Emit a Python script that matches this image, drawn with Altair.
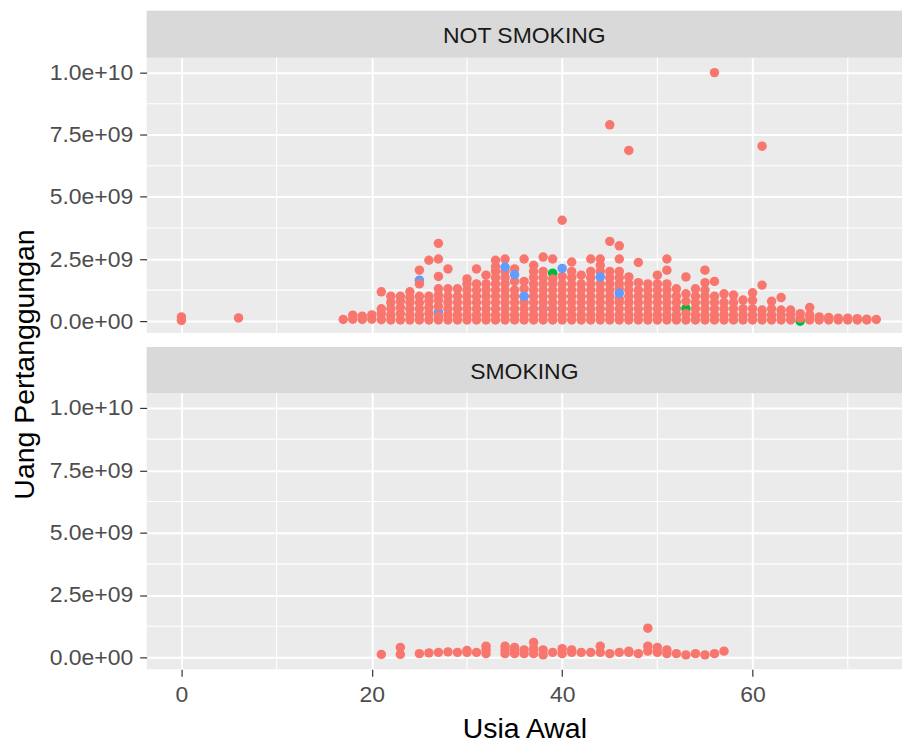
import altair as alt
import pandas as pd

# ---------------- data (Uang Pertanggungan in miliar / 1e9) ----------------
kategori = ["Kelas 1", "Kelas 2", "Kelas 3"]
warna = ["#F8766D", "#00BA38", "#619CFF"]

# NOT SMOKING, red points per age
usia_ns = [0, 6, 17, 18, 19, 20, 21, 22, 23, 24, 25, 26, 27, 28, 29, 30, 31, 32,
           33, 34, 35, 36, 37, 38, 39, 40, 41, 42, 43, 44, 45, 46, 47, 48, 49, 50,
           51, 52, 53, 54, 55, 56, 57, 58, 59, 60, 61, 62, 63, 64, 65, 66, 67, 68,
           69, 70, 71, 72, 73]
uang_ns = [
    [0.03, 0.17], [0.13], [0.07], [0.08, 0.24], [0.07, 0.2], [0.08, 0.25],
    [0.06, 0.3, 0.5, 1.18],
    [0.05, 0.25, 0.5, 0.75, 1.0],
    [0.05, 0.3, 0.55, 0.8, 1.0],
    [0.05, 0.25, 0.5, 0.75, 0.95, 1.18],
    [0.05, 0.25, 0.5, 0.75, 1.0, 1.5, 2.05],
    [0.05, 0.3, 0.55, 0.8, 1.0, 2.45],
    [0.05, 0.2, 0.6, 0.85, 1.05, 1.3, 1.8, 2.5, 3.13],
    [0.05, 0.25, 0.5, 0.75, 1.0, 1.3, 2.1],
    [0.05, 0.25, 0.5, 0.75, 1.0, 1.3],
    [0.05, 0.25, 0.5, 0.75, 1.0, 1.25, 1.5, 1.7],
    [0.05, 0.25, 0.5, 0.75, 1.0, 1.25, 1.5, 2.1],
    [0.05, 0.25, 0.5, 0.75, 1.0, 1.25, 1.5, 1.85],
    [0.05, 0.25, 0.5, 0.75, 1.0, 1.25, 1.5, 1.75, 2.0, 2.2, 2.45],
    [0.05, 0.25, 0.5, 0.75, 1.0, 1.25, 1.5, 1.75, 2.0, 2.5],
    [0.05, 0.25, 0.5, 0.75, 1.0, 1.25, 1.6, 2.1],
    [0.05, 0.25, 0.5, 0.75, 1.0, 1.3, 1.6, 2.5],
    [0.05, 0.25, 0.5, 0.75, 1.0, 1.25, 1.5, 1.75, 2.0, 2.25],
    [0.05, 0.25, 0.5, 0.75, 1.0, 1.25, 1.5, 1.75, 2.0, 2.58],
    [0.05, 0.25, 0.5, 0.75, 1.0, 1.25, 1.5, 1.7, 2.5],
    [0.05, 0.25, 0.5, 0.75, 1.0, 1.25, 1.5, 1.8, 4.06],
    [0.05, 0.25, 0.5, 0.75, 1.0, 1.25, 1.5, 1.75, 2.0, 2.38],
    [0.05, 0.25, 0.5, 0.75, 1.0, 1.25, 1.5, 1.85],
    [0.05, 0.25, 0.5, 0.75, 1.0, 1.25, 1.5, 1.75, 2.0, 2.5],
    [0.05, 0.25, 0.5, 0.75, 1.0, 1.25, 1.5, 2.0, 2.25, 2.5],
    [0.05, 0.25, 0.5, 0.75, 1.0, 1.25, 1.5, 1.75, 2.0, 3.21, 7.9],
    [0.05, 0.25, 0.5, 0.75, 0.9, 1.3, 1.5, 1.75, 2.0, 2.5, 3.03],
    [0.05, 0.25, 0.5, 0.75, 1.0, 1.25, 1.5, 1.78, 6.87],
    [0.05, 0.25, 0.5, 0.75, 1.0, 1.25, 1.55, 2.36],
    [0.05, 0.25, 0.5, 0.75, 1.0, 1.25, 1.5],
    [0.05, 0.25, 0.5, 0.75, 1.0, 1.25, 1.5, 1.85],
    [0.05, 0.25, 0.5, 0.75, 1.0, 1.25, 1.5, 2.05, 2.5],
    [0.05, 0.25, 0.5, 0.75, 1.0, 1.3],
    [0.05, 0.3, 0.8, 1.1, 1.78],
    [0.05, 0.25, 0.5, 0.75, 1.0, 1.3],
    [0.05, 0.25, 0.5, 0.75, 1.0, 1.25, 1.55, 2.05],
    [0.05, 0.25, 0.5, 0.75, 1.0, 1.6, 10.0],
    [0.05, 0.25, 0.5, 0.75, 1.1],
    [0.05, 0.25, 0.5, 0.75, 1.05],
    [0.05, 0.25, 0.5, 0.85],
    [0.05, 0.25, 0.5, 0.84, 1.14],
    [0.05, 0.25, 0.45, 1.45, 7.04],
    [0.05, 0.25, 0.5, 0.8],
    [0.05, 0.25, 0.45, 0.95],
    [0.05, 0.25, 0.45],
    [0.12, 0.3],
    [0.05, 0.25, 0.55],
    [0.05, 0.17], [0.05, 0.15], [0.05, 0.12], [0.05, 0.12], [0.05, 0.1],
    [0.05, 0.08], [0.07],
]

# NOT SMOKING, other categories (drawn under / over the red points)
usia_ns_bawah = [25, 27, 38, 39, 39, 53, 65]
uang_ns_bawah = [1.65, 0.37, 0.5, 0.5, 1.93, 0.51, 0.0]
kat_ns_bawah = ["Kelas 3", "Kelas 3", "Kelas 3", "Kelas 3", "Kelas 2", "Kelas 2", "Kelas 2"]
usia_ns_atas = [34, 35, 36, 40, 44, 46]
uang_ns_atas = [2.18, 1.87, 1.0, 2.12, 1.78, 1.12]
kat_ns_atas = ["Kelas 3"] * 6

# SMOKING, red points per age
usia_s = [21, 23, 25, 26, 27, 28, 29, 30, 31, 32, 34, 35, 36, 37, 38, 39, 40, 41,
          42, 43, 44, 45, 46, 47, 48, 49, 50, 51, 52, 53, 54, 55, 56, 57]
uang_s = [
    [0.12], [0.12, 0.4], [0.15], [0.18], [0.2], [0.22], [0.2], [0.2, 0.28],
    [0.2], [0.15, 0.3, 0.45], [0.15, 0.3, 0.45], [0.15, 0.3, 0.4], [0.15, 0.3],
    [0.15, 0.35, 0.6], [0.1, 0.3], [0.2], [0.15, 0.35], [0.2, 0.3], [0.2], [0.2],
    [0.2, 0.45], [0.15], [0.2], [0.2, 0.25], [0.15], [0.25, 0.45, 1.17],
    [0.2, 0.4], [0.15, 0.3], [0.15], [0.1], [0.15], [0.1], [0.15], [0.25],
]

x_ticks = [0, 20, 40, 60]
x_minor = [10, 30, 50, 70]
y_ticks = [0, 2.5e9, 5.0e9, 7.5e9, 1.0e10]
y_labels = ["0.0e+00", "2.5e+09", "5.0e+09", "7.5e+09", "1.0e+10"]
y_minor = [1.25e9, 3.75e9, 6.25e9, 8.75e9]

# ---------------- tables ----------------
def kolom_ke_baris(usia, uang, kat):
    rows = []
    for a, vals in zip(usia, uang):
        for v in vals:
            rows.append({"usia": a, "uang": v * 1e9, "kategori": kat})
    return rows

rows_ns = [{"usia": a, "uang": v * 1e9, "kategori": k}
           for a, v, k in zip(usia_ns_bawah, uang_ns_bawah, kat_ns_bawah)]
rows_ns += kolom_ke_baris(usia_ns, uang_ns, "Kelas 1")
rows_ns += [{"usia": a, "uang": v * 1e9, "kategori": k}
            for a, v, k in zip(usia_ns_atas, uang_ns_atas, kat_ns_atas)]
df_ns = pd.DataFrame(rows_ns)
df_s = pd.DataFrame(kolom_ke_baris(usia_s, uang_s, "Kelas 1"))

expr = "''"
for v, lab in reversed(list(zip(y_ticks, y_labels))):
    expr = f"datum.value == {int(v)} ? '{lab}' : ({expr})"

W = 757
FONT = "Liberation Sans"
TICK_FS = 23
TITLE_FS = 28.5
x_scale = alt.Scale(domain=[-3.65, 75.7], nice=False, zero=False)
y_scale = alt.Scale(domain=[-0.48e9, 10.6e9], nice=False, zero=False)


def strip(nama, tinggi):
    base = alt.Chart(pd.DataFrame({"label": [nama]}))
    rect = base.mark_rect(color="#D9D9D9").encode(
        x=alt.value(0), x2=alt.value(W), y=alt.value(0), y2=alt.value(tinggi))
    teks = base.mark_text(font=FONT, fontSize=23, color="#1A1A1A",
                          baseline="middle", align="center").encode(
        text="label:N", x=alt.value(W / 2), y=alt.value(tinggi / 2 + 2))
    return alt.layer(rect, teks).properties(width=W, height=tinggi)


def jarak(tinggi):
    return alt.Chart(pd.DataFrame({"k": [0]})).mark_rect(color="white").encode(
        x=alt.value(-2), x2=alt.value(W + 2), y=alt.value(0), y2=alt.value(tinggi)
    ).properties(width=W, height=tinggi)


def panel(df, tinggi, bawah):
    x_kw = dict(values=x_ticks, grid=True, gridColor="white", gridWidth=2,
                domain=False, labels=bawah, ticks=bawah, tickColor="#333333",
                tickSize=7, tickWidth=1.2, labelFontSize=TICK_FS,
                labelColor="#4D4D4D", labelFont=FONT, labelPadding=7)
    if bawah:
        x_kw.update(title="Usia Awal", titleFont=FONT, titleFontSize=TITLE_FS,
                    titleFontWeight="normal", titleColor="black",
                    titleY=59, titleBaseline="middle")
    else:
        x_kw.update(title="")
    y_kw = dict(values=y_ticks, labelExpr=expr, grid=True, gridColor="white",
                gridWidth=2, domain=False, tickColor="#333333", tickSize=7,
                tickWidth=1.2, labelFontSize=TICK_FS, labelColor="#4D4D4D",
                labelFont=FONT, labelPadding=7)
    if not bawah:
        y_kw.update(title="Uang Pertanggungan", titleFont=FONT,
                    titleFontSize=TITLE_FS, titleFontWeight="normal",
                    titleColor="black", titleX=-122, titleY=307, titleAngle=270,
                    titleAlign="center", titleBaseline="middle")
    else:
        y_kw.update(title="")
    x_axis = alt.Axis(**x_kw)
    y_axis = alt.Axis(**y_kw)

    grid_x = alt.Chart(pd.DataFrame({"usia": x_minor})).mark_rule(
        color="white", strokeWidth=1.1).encode(
        x=alt.X("usia:Q", scale=x_scale, axis=x_axis))
    grid_y = alt.Chart(pd.DataFrame({"uang": y_minor})).mark_rule(
        color="white", strokeWidth=1.1).encode(
        y=alt.Y("uang:Q", scale=y_scale, axis=y_axis))
    titik = alt.Chart(df).mark_circle(size=90, opacity=1).encode(
        x=alt.X("usia:Q", scale=x_scale, axis=x_axis),
        y=alt.Y("uang:Q", scale=y_scale, axis=y_axis),
        color=alt.Color("kategori:N",
                        scale=alt.Scale(domain=kategori, range=warna),
                        legend=None),
    )
    return alt.layer(grid_x, grid_y, titik).properties(width=W, height=tinggi)


chart = alt.vconcat(
    strip("NOT SMOKING", 47),
    panel(df_ns, 276, False),
    jarak(14),
    strip("SMOKING", 46),
    panel(df_s, 277, True),
    spacing=0, bounds="flush",
).properties(
    padding={"left": 11, "top": 10, "right": 0, "bottom": 2},
    background="white",
).configure_view(fill="#EBEBEB", stroke=None)

chart.save("out.html", embed_options={"renderer": "svg", "actions": False})
